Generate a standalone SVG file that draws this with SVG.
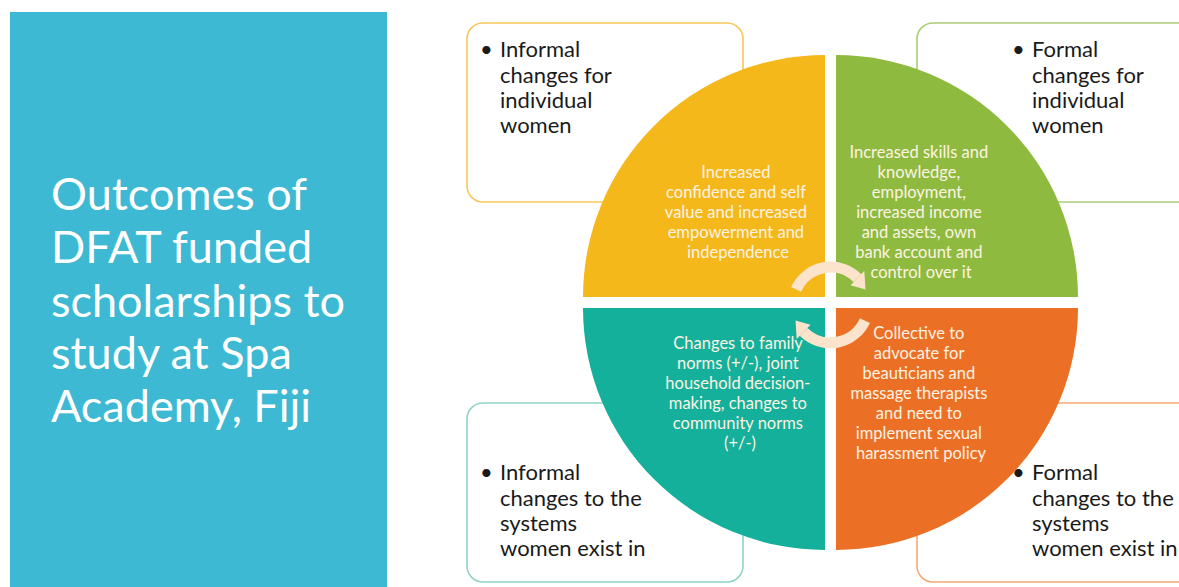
<svg xmlns="http://www.w3.org/2000/svg" width="1179" height="587" viewBox="0 0 1179 587">
  <style>
    .title { font-family: Lato, "Liberation Sans", sans-serif; font-size: 45px; fill: #ffffff; }
    .box { fill: #ffffff; stroke-width: 1.6; }
    .label { font-family: Lato, "Liberation Sans", sans-serif; font-size: 22px; fill: #1a1a1a; }
    .inner { font-family: Lato, "Liberation Sans", sans-serif; font-size: 16.5px; fill: #fdf3e3; text-anchor: middle; }
    .cycle { fill: none; stroke: #fbe4cb; stroke-width: 11; }
    .head { fill: #fbe4cb; }
  </style>

  <!-- title panel -->
  <g id="title-panel">
    <rect x="10" y="12" width="377" height="580" fill="#3db9d3"/>
    <text class="title">
      <tspan x="51" y="210">Outcomes of</tspan>
      <tspan x="51" y="263">DFAT funded</tspan>
      <tspan x="51" y="317">scholarships to</tspan>
      <tspan x="51" y="369">study at Spa</tspan>
      <tspan x="51" y="422">Academy, Fiji</tspan>
    </text>
  </g>

  <!-- outer label boxes -->
  <g id="box-informal-individual">
    <rect class="box" x="467" y="23" width="276" height="179" rx="16" stroke="#f7c75a"/>
    <text class="label" x="480" y="57">•</text>
    <text class="label">
      <tspan x="500" y="57">Informal</tspan>
      <tspan x="500" y="83">changes for</tspan>
      <tspan x="500" y="108">individual</tspan>
      <tspan x="500" y="133">women</tspan>
    </text>
  </g>

  <g id="box-formal-individual">
    <rect class="box" x="917" y="23" width="290" height="179" rx="16" stroke="#a9cd73"/>
    <text class="label" x="1012" y="57">•</text>
    <text class="label">
      <tspan x="1032" y="57">Formal</tspan>
      <tspan x="1032" y="83">changes for</tspan>
      <tspan x="1032" y="108">individual</tspan>
      <tspan x="1032" y="133">women</tspan>
    </text>
  </g>

  <g id="box-informal-systems">
    <rect class="box" x="467" y="403" width="276" height="179" rx="16" stroke="#8fd4c6"/>
    <text class="label" x="480" y="480">•</text>
    <text class="label">
      <tspan x="500" y="480">Informal</tspan>
      <tspan x="500" y="506">changes to the</tspan>
      <tspan x="500" y="531">systems</tspan>
      <tspan x="500" y="556">women exist in</tspan>
    </text>
  </g>

  <g id="box-formal-systems">
    <rect class="box" x="917" y="403" width="290" height="179" rx="16" stroke="#f5a873"/>
    <text class="label" x="1012" y="480">•</text>
    <text class="label">
      <tspan x="1032" y="480">Formal</tspan>
      <tspan x="1032" y="506">changes to the</tspan>
      <tspan x="1032" y="531">systems</tspan>
      <tspan x="1032" y="556">women exist in</tspan>
    </text>
  </g>

  <!-- quarter-circle segments -->
  <g id="segment-confidence">
    <path d="M825,297 L583,297 A242,242 0 0 1 825,55 Z" fill="#f5b81b"/>
    <text class="inner">
      <tspan x="738" y="178">Increased</tspan>
      <tspan x="738" y="198">confidence and self</tspan>
      <tspan x="738" y="218">value and increased</tspan>
      <tspan x="738" y="238">empowerment and</tspan>
      <tspan x="738" y="258">independence</tspan>
    </text>
  </g>

  <g id="segment-skills">
    <path d="M836,297 L836,55 A242,242 0 0 1 1078,297 Z" fill="#8ebb3f"/>
    <text class="inner">
      <tspan x="921" y="158">Increased skills and</tspan>
      <tspan x="921" y="178">knowledge,</tspan>
      <tspan x="921" y="198">employment,</tspan>
      <tspan x="921" y="218">increased income</tspan>
      <tspan x="921" y="238">and assets, own</tspan>
      <tspan x="921" y="258">bank account and</tspan>
      <tspan x="921" y="278">control over it</tspan>
    </text>
  </g>

  <g id="segment-norms">
    <path d="M825,308 L583,308 A242,242 0 0 0 825,550 Z" fill="#14b09b"/>
    <text class="inner">
      <tspan x="740" y="349">Changes to family</tspan>
      <tspan x="740" y="369">norms (+/-), joint</tspan>
      <tspan x="740" y="389">household decision-</tspan>
      <tspan x="740" y="409">making, changes to</tspan>
      <tspan x="740" y="429">community norms</tspan>
      <tspan x="740" y="449">(+/-)</tspan>
    </text>
  </g>

  <g id="segment-collective">
    <path d="M836,308 L1078,308 A242,242 0 0 1 836,550 Z" fill="#eb7026"/>
    <text class="inner">
      <tspan x="921" y="339">Collective to</tspan>
      <tspan x="921" y="359">advocate for</tspan>
      <tspan x="921" y="379">beauticians and</tspan>
      <tspan x="921" y="399">massage therapists</tspan>
      <tspan x="921" y="419">and need to</tspan>
      <tspan x="921" y="439">implement sexual</tspan>
      <tspan x="921" y="459">harassment policy</tspan>
    </text>
  </g>

  <!-- cycle arrows in the centre -->
  <g id="connectors">
    <g id="cycle-top">
      <path class="cycle" d="M796.1,289.4 A38,38 0 0 1 857.4,278.1"/>
      <polygon class="head" points="850.5,285.2 864.3,271.1 865.5,289.5"/>
    </g>
    <g id="cycle-bottom" transform="rotate(180 830.5 305)">
      <path class="cycle" d="M796.1,289.4 A38,38 0 0 1 857.4,278.1"/>
      <polygon class="head" points="850.5,285.2 864.3,271.1 865.5,289.5"/>
    </g>
  </g>
</svg>
